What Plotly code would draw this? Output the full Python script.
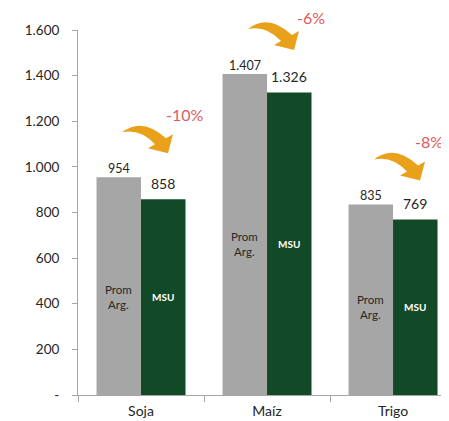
import plotly.graph_objects as go

categories = ["Soja", "Maíz", "Trigo"]
prom_arg = [954, 1407, 835]
msu = [858, 1326, 769]
tick_vals = [0, 200, 400, 600, 800, 1000, 1200, 1400, 1600]
tick_text = ["-", "200", "400", "600", "800", "1.000", "1.200", "1.400", "1.600"]
series_names = ["Prom<br>Arg.", "MSU"]

GREY = "#A6A6A6"
GREEN = "#124A28"
ORANGE = "#E9A11B"
RED = "#E05A5A"
FONT = "Lato"

# the page body adds an 8px offset; compensate so the plot area lands where the reference has it
OFF = 8
W, H = 449 - OFF, 421 - OFF
ML, MR, MT, MB = 78 - OFF, 0, 30 - OFF, 26
XR = [-0.5, 2.444]
YR = [0, 1600]
plot_w = W - ML - MR
plot_h = H - MT - MB
px_x = (XR[1] - XR[0]) / plot_w
px_y = (YR[1] - YR[0]) / plot_h


def fmt(v):
    return f"{v:,}".replace(",", ".")


def xp(x):
    return (x - XR[0]) / (XR[1] - XR[0])


def yp(y):
    return (y - YR[0]) / (YR[1] - YR[0])


fig = go.Figure()
fig.add_bar(x=categories, y=prom_arg, marker_color=GREY, name="Prom Arg.",
            marker_line_width=0)
fig.add_bar(x=categories, y=msu, marker_color=GREEN, name="MSU",
            marker_line_width=0)

half = (1 - 0.294) / 4
annotations = []
shapes = []


def ann(x, y, text, size, color, yshift=0):
    return dict(x=xp(x), y=yp(y), xref="paper", yref="paper", text=text,
                showarrow=False, xanchor="center", yanchor="middle", yshift=yshift,
                font=dict(size=size, color=color, family=FONT))


# keep the percentage labels inside the paper
x_max = XR[1] - 20 * px_x
y_max = YR[1] + (MT - 10) * px_y

# arrow outline in pixels (x right, y down), bbox ~50x27
arrow = [("M", 0, 7), ("Q", 20, -9, 44, 13), ("L", 51, 9), ("L", 46, 28),
         ("L", 26, 23), ("L", 33, 19), ("Q", 18, 3, 0, 7)]
for i, (a, b) in enumerate(zip(prom_arg, msu)):
    annotations.append(ann(i - half, a, fmt(a), 12.5, "#262626", yshift=9))
    annotations.append(ann(i + half, b, fmt(b), 14, "#262626", yshift=16))
    mid = min(a, b) / 2
    annotations.append(ann(i - half, mid, series_names[0], 11.5, "#262626"))
    annotations.append(ann(i + half, mid, "<b>" + series_names[1] + "</b>", 10, "white"))
    pct = round((b / a - 1) * 100)
    annotations.append(ann(min(i + 44 * px_x, x_max), min(a + 63 * px_y, y_max),
                           f"{pct}%", 16, RED))
    x0 = i - 19 * px_x
    y0 = a + 52 * px_y
    parts = []
    for seg in arrow:
        cmd = seg[0]
        pts = seg[1:]
        coords = []
        for k in range(0, len(pts), 2):
            coords.append(f"{xp(x0 + pts[k] * px_x):.5f},{yp(y0 - pts[k + 1] * px_y):.5f}")
        parts.append(cmd + " " + " ".join(coords))
    path = " ".join(parts) + " Z"
    shapes.append(dict(type="path", path=path, xref="paper", yref="paper",
                       fillcolor=ORANGE, line=dict(width=0), layer="above"))

fig.update_layout(
    width=W, height=H,
    margin=dict(l=ML, r=MR, t=MT, b=MB),
    paper_bgcolor="white", plot_bgcolor="white",
    barmode="group", bargap=0.294, bargroupgap=0,
    showlegend=False,
    separators=",.",
    font=dict(family=FONT, color="#262626"),
    annotations=annotations,
    shapes=shapes,
    xaxis=dict(range=XR, type="category", tickson="boundaries", ticks="outside",
               ticklen=6, tickcolor="#A6A6A6", showline=True, linecolor="#A6A6A6",
               linewidth=1, showgrid=False, tickfont=dict(size=14, color="#262626"),
               ticklabelstandoff=3, fixedrange=True),
    yaxis=dict(range=YR, tickvals=tick_vals, ticktext=tick_text, ticks="outside",
               ticklen=5, tickcolor="#A6A6A6", showline=True, linecolor="#A6A6A6",
               linewidth=1, showgrid=False, zeroline=False,
               tickfont=dict(size=13.5, color="#262626"), ticklabelstandoff=10),
)

fig.write_html("out.html")
